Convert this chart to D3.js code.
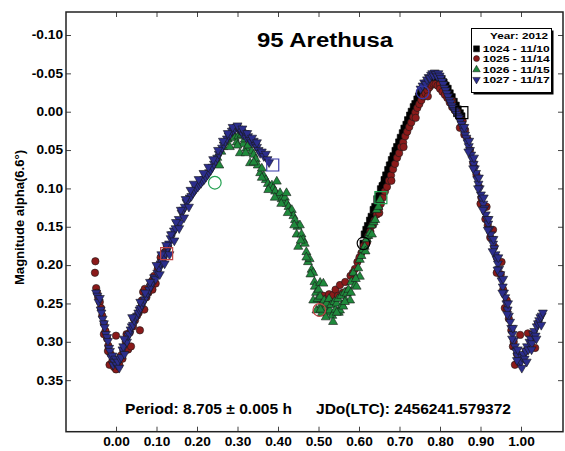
<!DOCTYPE html>
<html>
<head>
<meta charset="utf-8">
<script src="https://cdn.jsdelivr.net/npm/d3@7"></script>
<style>
  html, body { margin: 0; padding: 0; background: #fff; }
  svg { display: block; font-family: "Liberation Sans", Arial, Helvetica, sans-serif; }
</style>
</head>
<body>
<svg id="chart" width="565" height="451"></svg>
<script>
// ---------- DATA ----------
const title = "95 Arethusa";
const yLabel = "Magnitude alpha(6.6°)";
const periodText = "Period: 8.705 ± 0.005 h";
const epochText = "JDo(LTC): 2456241.579372";
const legendTitle = "Year: 2012";
const seriesNames = ["1024 - 11/10", "1025 - 11/14", "1026 - 11/15", "1027 - 11/17"];
const seriesColors = ["#000000", "#8b1a1a", "#1f8a3c", "#2b2d8c"];
const seriesShapes = ["square", "circle", "triangleUp", "triangleDown"];
const xTicks = [0.00, 0.10, 0.20, 0.30, 0.40, 0.50, 0.60, 0.70, 0.80, 0.90, 1.00];
const yTicks = [-0.10, -0.05, 0.00, 0.05, 0.10, 0.15, 0.20, 0.25, 0.30, 0.35];

// [phase, magnitude]
const s1024 = [[0.611,0.172],[0.614,0.160],[0.618,0.154],[0.622,0.149],[0.627,0.142],[0.631,0.137],[0.636,0.128],[0.640,0.124],[0.645,0.114],[0.649,0.110],[0.654,0.101],[0.658,0.097],[0.663,0.089],[0.667,0.083],[0.672,0.076],[0.676,0.070],[0.681,0.063],[0.685,0.058],[0.690,0.051],[0.694,0.046],[0.699,0.040],[0.703,0.034],[0.708,0.028],[0.712,0.022],[0.717,0.017],[0.721,0.011],[0.726,0.005],[0.730,0.000],[0.735,-0.006],[0.739,-0.010],[0.744,-0.016],[0.748,-0.020],[0.753,-0.025],[0.757,-0.029],[0.762,-0.033],[0.766,-0.037],[0.771,-0.040],[0.775,-0.043],[0.780,-0.045],[0.784,-0.047],[0.789,-0.047],[0.794,-0.046],[0.799,-0.044],[0.804,-0.042],[0.809,-0.038],[0.814,-0.034],[0.819,-0.030],[0.824,-0.024],[0.829,-0.019],[0.834,-0.013],[0.839,-0.008],[0.844,-0.003],[0.849,0.002],[0.853,0.006],
  [0.634,0.146],[0.643,0.130],[0.652,0.112],[0.661,0.096],[0.670,0.084],[0.679,0.070],[0.688,0.060],[0.697,0.048],[0.706,0.036],[0.715,0.026],[0.724,0.014],[0.733,0.004],[0.742,-0.008],[0.751,-0.018],[0.760,-0.026],[0.769,-0.032],[0.778,-0.038],[0.787,-0.041],[0.812,-0.030],[0.822,-0.020],[0.832,-0.008],[0.842,0.002]];

const s1025 = [[-0.051,0.195],[-0.052,0.210],[-0.049,0.230],[-0.047,0.236],[-0.044,0.242],[-0.040,0.248],[-0.037,0.256],[-0.034,0.266],[-0.030,0.276],[-0.026,0.286],[-0.022,0.296],[-0.019,0.305],[-0.016,0.330],[-0.013,0.316],[-0.009,0.325],[-0.005,0.333],[0.000,0.336],[0.000,0.292],[0.004,0.326],[0.008,0.330],[0.012,0.318],[0.018,0.312],[0.024,0.300],[0.030,0.310],[0.034,0.288],[0.037,0.306],[0.042,0.280],[0.047,0.272],[0.052,0.266],[0.056,0.262],[0.059,0.285],[0.063,0.254],[0.067,0.235],[0.071,0.231],[0.075,0.242],[0.080,0.236],[0.085,0.226],[0.090,0.220],[0.094,0.214],[0.098,0.224],[0.103,0.205],[0.108,0.200],[0.112,0.195],[0.117,0.190],[0.121,0.183],[0.125,0.180],[0.128,0.176],
  [-0.030,0.290],[-0.020,0.312],[0.016,0.322],[0.026,0.290],[0.044,0.270],[0.064,0.246],[0.070,0.258],[0.090,0.232],[0.110,0.190],
  [0.505,0.245],[0.512,0.240],[0.520,0.244],[0.526,0.238],[0.531,0.248],[0.536,0.239],[0.542,0.232],[0.548,0.240],[0.553,0.226],[0.560,0.236],[0.566,0.222],[0.573,0.233],[0.579,0.214],[0.585,0.210],[0.590,0.205],[0.596,0.196],[0.601,0.190],[0.606,0.184],[0.612,0.175],[0.617,0.170],[0.623,0.162],[0.628,0.156],[0.633,0.148],[0.638,0.142],[0.644,0.134],[0.649,0.126],[0.654,0.120],[0.659,0.112],[0.664,0.104],[0.669,0.098],[0.674,0.090],[0.679,0.083],[0.684,0.075],[0.689,0.068],[0.694,0.060],[0.699,0.054],[0.704,0.046],[0.709,0.040],[0.714,0.032],[0.719,0.026],[0.724,0.020],[0.729,0.014],[0.734,0.007],[0.739,0.001],[0.744,-0.005],[0.749,-0.010],[0.754,-0.015],[0.759,-0.020],[0.764,-0.024],[0.769,-0.028],[0.774,-0.032],[0.779,-0.035],[0.784,-0.036],[0.789,-0.036],[0.794,-0.034],
  [0.620,0.170],[0.650,0.132],[0.680,0.090],[0.710,0.046],[0.740,0.008],[0.770,-0.020],[0.800,-0.036],[0.830,-0.014],[0.860,0.030],[0.900,0.120],[0.940,0.210],[0.960,0.256],[0.980,0.306],
  [0.800,-0.030],[0.806,-0.026],[0.812,-0.022],[0.818,-0.018],[0.824,-0.012],[0.830,-0.006],[0.836,-0.002],[0.842,0.000],[0.849,0.021],[0.856,0.012],[0.862,0.024],[0.868,0.036],[0.874,0.050],[0.882,0.067],[0.884,0.072],[0.890,0.082],[0.896,0.098],[0.902,0.112],[0.915,0.124],[0.912,0.140],[0.918,0.148],[0.924,0.164],[0.931,0.154],[0.934,0.176],[0.940,0.190],[0.952,0.196],[0.950,0.212],[0.956,0.232],[0.965,0.246],[0.966,0.258],[0.970,0.270],[0.976,0.285],[0.982,0.300],[0.985,0.330],[0.990,0.316],[0.994,0.325],[0.998,0.291],[1.004,0.318],[1.012,0.312],[1.017,0.289],[1.024,0.300],[1.030,0.292],[1.035,0.308],[1.042,0.276]];

const s1026 = [[0.246,0.062],[0.250,0.060],[0.255,0.070],[0.260,0.052],[0.265,0.046],[0.270,0.040],[0.276,0.036],[0.281,0.046],[0.285,0.030],[0.289,0.028],[0.293,0.034],[0.298,0.040],[0.302,0.032],[0.306,0.054],[0.310,0.030],[0.314,0.042],[0.318,0.036],[0.322,0.048],[0.326,0.044],[0.331,0.067],[0.335,0.052],[0.340,0.056],[0.345,0.062],[0.350,0.070],[0.356,0.080],[0.360,0.074],[0.365,0.084],[0.370,0.089],[0.375,0.094],[0.380,0.098],[0.385,0.096],[0.388,0.100],[0.393,0.104],[0.397,0.091],[0.401,0.110],[0.405,0.106],[0.409,0.114],[0.413,0.118],[0.417,0.112],[0.421,0.106],[0.422,0.120],[0.426,0.124],[0.430,0.130],[0.434,0.128],[0.438,0.136],[0.442,0.141],[0.446,0.160],[0.448,0.150],[0.450,0.176],[0.454,0.148],[0.458,0.160],[0.462,0.167],[0.466,0.172],[0.470,0.183],[0.474,0.196],[0.478,0.192],[0.483,0.206],[0.487,0.210],[0.487,0.246],[0.490,0.222],[0.491,0.228],[0.494,0.236],[0.495,0.259],[0.498,0.244],[0.500,0.232],[0.504,0.223],[0.504,0.241],[0.507,0.252],[0.508,0.263],[0.512,0.224],[0.514,0.246],[0.517,0.256],[0.520,0.250],[0.523,0.262],[0.526,0.244],[0.528,0.259],[0.531,0.252],[0.534,0.266],[0.536,0.274],[0.539,0.248],[0.542,0.258],[0.545,0.250],[0.548,0.244],[0.550,0.262],[0.553,0.259],[0.556,0.240],[0.558,0.252],[0.561,0.254],[0.564,0.236],[0.567,0.246],[0.570,0.237],[0.574,0.232],[0.578,0.246],[0.581,0.222],[0.586,0.210],[0.590,0.226],[0.594,0.228],[0.598,0.204],[0.602,0.215],[0.602,0.193],[0.606,0.188],[0.610,0.180],[0.614,0.176],[0.619,0.166],[0.623,0.162],[0.627,0.158],[0.631,0.148],[0.636,0.144],[0.640,0.141],[0.644,0.128],[0.648,0.124],[0.652,0.115],
  [0.360,0.086],[0.376,0.102],[0.392,0.112],[0.408,0.120],[0.424,0.132],[0.440,0.148],[0.456,0.168],[0.470,0.190],[0.480,0.212],[0.505,0.258],[0.518,0.268],[0.545,0.262],[0.565,0.248],[0.580,0.236],[0.592,0.218],[0.616,0.182],[0.632,0.160],[0.300,0.044],[0.320,0.054],[0.340,0.066]];

const s1027 = [[-0.049,0.236],[-0.046,0.240],[-0.043,0.248],[-0.040,0.243],[-0.038,0.258],[-0.036,0.262],[-0.033,0.270],[-0.030,0.276],[-0.028,0.281],[-0.025,0.290],[-0.022,0.294],[-0.020,0.299],[-0.017,0.308],[-0.015,0.312],[-0.012,0.320],[-0.009,0.318],[-0.007,0.330],[-0.004,0.326],[-0.001,0.322],[0.002,0.330],[0.005,0.326],[0.008,0.334],[0.010,0.322],[0.013,0.320],[0.016,0.310],[0.018,0.306],[0.021,0.316],[0.024,0.298],[0.027,0.300],[0.030,0.292],[0.033,0.290],[0.036,0.284],[0.039,0.280],[0.042,0.278],[0.045,0.272],[0.049,0.268],[0.052,0.266],[0.055,0.262],[0.058,0.258],[0.061,0.256],[0.064,0.252],[0.067,0.248],[0.071,0.245],[0.075,0.241],[0.078,0.236],[0.082,0.232],[0.086,0.228],[0.090,0.222],[0.094,0.216],[0.098,0.218],[0.102,0.210],[0.106,0.205],[0.110,0.198],[0.114,0.196],[0.118,0.190],[0.122,0.184],[0.127,0.178],[0.131,0.172],[0.135,0.165],[0.139,0.160],[0.143,0.155],[0.147,0.152],[0.151,0.146],[0.155,0.140],[0.158,0.145],[0.162,0.132],[0.166,0.128],[0.170,0.124],[0.174,0.118],[0.178,0.115],[0.182,0.112],
  [0.186,0.110],[0.190,0.106],[0.194,0.103],[0.198,0.100],[0.202,0.098],[0.206,0.095],[0.210,0.093],[0.214,0.090],[0.218,0.088],[0.222,0.085],[0.226,0.082],[0.230,0.079],[0.234,0.076],[0.238,0.072],[0.242,0.068],[0.246,0.064],[0.250,0.060],[0.254,0.055],[0.258,0.051],[0.262,0.047],[0.266,0.043],[0.270,0.039],[0.274,0.035],[0.278,0.031],[0.282,0.029],[0.286,0.025],[0.290,0.024],[0.294,0.022],[0.298,0.020],
  [0.302,0.022],[0.306,0.024],[0.310,0.026],[0.314,0.030],[0.318,0.028],[0.322,0.034],[0.326,0.032],[0.330,0.037],[0.335,0.040],[0.340,0.038],[0.344,0.044],[0.348,0.046],[0.352,0.050],[0.356,0.054],[0.360,0.052],[0.365,0.058],[0.370,0.055],[0.374,0.062],[0.378,0.066],
  [0.192,0.094],[0.204,0.088],[0.216,0.080],[0.228,0.072],[0.240,0.062],[0.252,0.050],[0.264,0.038],[0.276,0.028],[0.288,0.020],[0.300,0.018],[0.312,0.022],[0.324,0.028],[0.336,0.034],[0.348,0.040],[0.100,0.200],[0.112,0.186],[0.124,0.174],[0.136,0.160],[0.148,0.144],[0.160,0.128],[0.172,0.114],[0.184,0.102],[0.060,0.248],[0.072,0.236],[0.084,0.222],[0.040,0.268],[0.020,0.296],[0.108,0.212],[0.120,0.198],[0.132,0.186],[0.144,0.168],[0.156,0.152],[0.168,0.138],[0.180,0.124],
  [0.752,-0.030],[0.757,-0.034],[0.761,-0.038],[0.765,-0.036],[0.768,-0.042],[0.772,-0.045],[0.775,-0.044],[0.778,-0.048],[0.781,-0.050],[0.784,-0.047],[0.787,-0.051],[0.790,-0.049],[0.793,-0.046],[0.796,-0.050],[0.799,-0.047],[0.802,-0.044],[0.805,-0.040],[0.808,-0.036],[0.811,-0.031],[0.814,-0.028],[0.817,-0.024],[0.820,-0.020],[0.823,-0.015],[0.826,-0.012],[0.829,-0.008],[0.832,-0.005],[0.835,-0.002],[0.838,0.000],[0.841,0.003],[0.844,0.006],[0.847,0.008],[0.850,0.012],[0.853,0.016],[0.856,0.020],[0.859,0.025],[0.862,0.030],[0.865,0.034],[0.868,0.040],[0.871,0.045],[0.874,0.050],[0.877,0.056],[0.880,0.062],[0.883,0.068],[0.886,0.074],[0.889,0.080],[0.892,0.088],[0.895,0.094],[0.898,0.100],[0.901,0.108],[0.904,0.114],[0.907,0.120],[0.910,0.126],[0.913,0.134],[0.916,0.140],[0.919,0.146],[0.922,0.153],[0.925,0.160],[0.928,0.166],[0.931,0.172],[0.934,0.178],[0.937,0.186],[0.940,0.192],[0.943,0.198],[0.946,0.205],[0.949,0.212],[0.952,0.220],[0.955,0.228],[0.958,0.236],[0.961,0.242],[0.964,0.250],[0.967,0.258],[0.970,0.266],[0.973,0.274],[0.976,0.282],[0.979,0.290],[0.982,0.298],[0.985,0.306],[0.988,0.312],[0.991,0.318],[0.994,0.324],[0.997,0.328],[1.000,0.326],[1.003,0.320],[1.006,0.316],[1.009,0.322],[1.012,0.312],[1.015,0.306],[1.018,0.310],[1.021,0.300],[1.024,0.296],[1.027,0.302],[1.030,0.290],[1.033,0.286],[1.036,0.292],[1.039,0.280],[1.042,0.276],[1.045,0.272],[1.048,0.268],[1.051,0.266],[1.054,0.262],
  [0.860,0.020],[0.872,0.038],[0.884,0.060],[0.896,0.086],[0.908,0.112],[0.920,0.140],[0.932,0.166],[0.944,0.190],[0.956,0.218],[0.968,0.250],[0.980,0.282],[0.992,0.310],[0.870,0.052],[0.882,0.074],[0.894,0.100],[0.906,0.128],[0.918,0.154],[0.930,0.182],[0.942,0.206],[0.954,0.236],[0.966,0.264],[0.978,0.296],[0.990,0.324],[1.002,0.334],[1.014,0.326],[1.026,0.310],[1.038,0.296],[1.050,0.278]];

// open marker highlights: [seriesIndex, shape, phase, magnitude]
const highlights = [[0,"circle",0.611,0.1716],[0,"square",0.854,0.0013],[1,"square",0.125,0.185],[1,"circle",0.502,0.2585],[2,"circle",0.244,0.0926],[2,"square",0.654,0.112],[3,"square",0.387,0.0695],[3,"circle",0.757,-0.0253]];

// ---------- CHART ----------
const svg = d3.select("#chart");
const x = d3.scaleLinear().domain([-0.1235, 1.1037]).range([66, 563]);
const y = d3.scaleLinear().domain([-0.13, 0.4172]).range([12, 431.7]);
const fmt = d => d.toFixed(2);

svg.append("rect").attr("width", 565).attr("height", 451).attr("fill", "#fff");

// axes
const gB = svg.append("g").attr("transform", `translate(0,${y.range()[1]})`)
  .call(d3.axisBottom(x).tickValues(xTicks).tickFormat(fmt).tickSizeInner(-5).tickSizeOuter(0).tickPadding(6));
const gT = svg.append("g").attr("transform", `translate(0,${y.range()[0]})`)
  .call(d3.axisTop(x).tickValues(xTicks).tickFormat("").tickSizeInner(-5).tickSizeOuter(0));
const gL = svg.append("g").attr("transform", `translate(${x.range()[0]},0)`)
  .call(d3.axisLeft(y).tickValues(yTicks).tickFormat(fmt).tickSizeInner(-5).tickSizeOuter(0).tickPadding(3));
const gR = svg.append("g").attr("transform", `translate(${x.range()[1]},0)`)
  .call(d3.axisRight(y).tickValues(yTicks).tickFormat("").tickSizeInner(-5).tickSizeOuter(0));
[gB, gT, gL, gR].forEach(g => {
  g.select(".domain").remove();
  g.selectAll(".tick line").attr("stroke", "#444").attr("stroke-width", 1);
  g.selectAll(".tick text").attr("fill", "#000").attr("font-size", 12).attr("font-weight", "bold")
    .attr("font-family", '"Liberation Sans", Arial, sans-serif');
});
[gB, gL].forEach(g => g.selectAll(".tick text").each(function () {
  const w = this.getComputedTextLength();
  d3.select(this).attr("textLength", w * 1.14).attr("lengthAdjust", "spacingAndGlyphs");
}));

// frame
svg.append("rect")
  .attr("x", x.range()[0]).attr("y", y.range()[0])
  .attr("width", x.range()[1] - x.range()[0]).attr("height", y.range()[1] - y.range()[0])
  .attr("fill", "none").attr("stroke", "#222").attr("stroke-width", 1.5);

// symbols
function symPath(shape, s) {
  if (shape === "square") return d3.symbol(d3.symbolSquare, s * s)();
  if (shape === "circle") return d3.symbol(d3.symbolCircle, Math.PI * (s / 2) * (s / 2))();
  return d3.symbol(d3.symbolTriangle, s * s * Math.sqrt(3) / 4)();
}
const shapeSize = { square: 7, circle: 7.4, triangleUp: 9, triangleDown: 9 };

const allSeries = [s1024, s1025, s1026, s1027];
const plot = svg.append("g");
allSeries.forEach((data, i) => {
  const shape = seriesShapes[i];
  const p = symPath(shape, shapeSize[shape]);
  plot.append("g").selectAll("path").data(data).join("path")
    .attr("d", p)
    .attr("transform", d => `translate(${x(d[0])},${y(d[1])})${shape === "triangleDown" ? " rotate(180)" : ""}`)
    .attr("fill", seriesColors[i])
    .attr("stroke", i === 0 ? "#000" : "#1a1a1a")
    .attr("stroke-width", 0.6);
});

// highlight open markers
const hlColors = ["#000000", "#c04545", "#22a050", "#3a3aa8"];
plot.append("g").selectAll("path").data(highlights).join("path")
  .attr("d", d => d[1] === "square" ? d3.symbol(d3.symbolSquare, 12 * 12)() : d3.symbol(d3.symbolCircle, Math.PI * 6.3 * 6.3)())
  .attr("transform", d => `translate(${x(d[2])},${y(d[3])})`)
  .attr("fill", "none").attr("stroke", d => hlColors[d[0]]).attr("stroke-width", 1.2);

// title
svg.append("text").attr("x", 257).attr("y", 47)
  .attr("font-size", 20).attr("font-weight", "bold").attr("fill", "#000")
  .attr("textLength", 136).attr("lengthAdjust", "spacingAndGlyphs").text(title);

// bottom texts
svg.append("text").attr("x", 125).attr("y", 414)
  .attr("font-size", 14.5).attr("font-weight", "bold").attr("fill", "#000")
  .attr("textLength", 167).attr("lengthAdjust", "spacingAndGlyphs").text(periodText);
svg.append("text").attr("x", 316).attr("y", 414)
  .attr("font-size", 14.5).attr("font-weight", "bold").attr("fill", "#000")
  .attr("textLength", 195).attr("lengthAdjust", "spacingAndGlyphs").text(epochText);

// y label
svg.append("text").attr("transform", "translate(23.5,217.5) rotate(-90)")
  .attr("text-anchor", "middle").attr("font-size", 13).attr("font-weight", "bold").attr("fill", "#000")
  .attr("textLength", 135).attr("lengthAdjust", "spacingAndGlyphs").text(yLabel);

// legend
const lg = svg.append("g");
lg.append("rect").attr("x", 473.5).attr("y", 30.5).attr("width", 80).attr("height", 64).attr("fill", "#000");
lg.append("rect").attr("x", 471.5).attr("y", 28.5).attr("width", 80).attr("height", 64)
  .attr("fill", "#fff").attr("stroke", "#000").attr("stroke-width", 1);
lg.append("text").attr("x", 490).attr("y", 39.3).attr("font-size", 9.5).attr("font-weight", "bold")
  .attr("textLength", 58).attr("lengthAdjust", "spacingAndGlyphs").text(legendTitle);
const rowY = [48.8, 58.6, 69.6, 79.6];
seriesNames.forEach((name, i) => {
  const shape = seriesShapes[i];
  lg.append("path")
    .attr("d", symPath(shape, shape === "square" ? 6 : shape === "circle" ? 6 : 7.5))
    .attr("transform", `translate(476.5,${rowY[i]})${shape === "triangleDown" ? " rotate(180)" : ""}`)
    .attr("fill", seriesColors[i]).attr("stroke", "#111").attr("stroke-width", 0.5);
  lg.append("text").attr("x", 482.7).attr("y", rowY[i] + 3.2).attr("font-size", 9.5).attr("font-weight", "bold")
    .attr("textLength", 67).attr("lengthAdjust", "spacingAndGlyphs").text(name);
});
</script>
</body>
</html>
